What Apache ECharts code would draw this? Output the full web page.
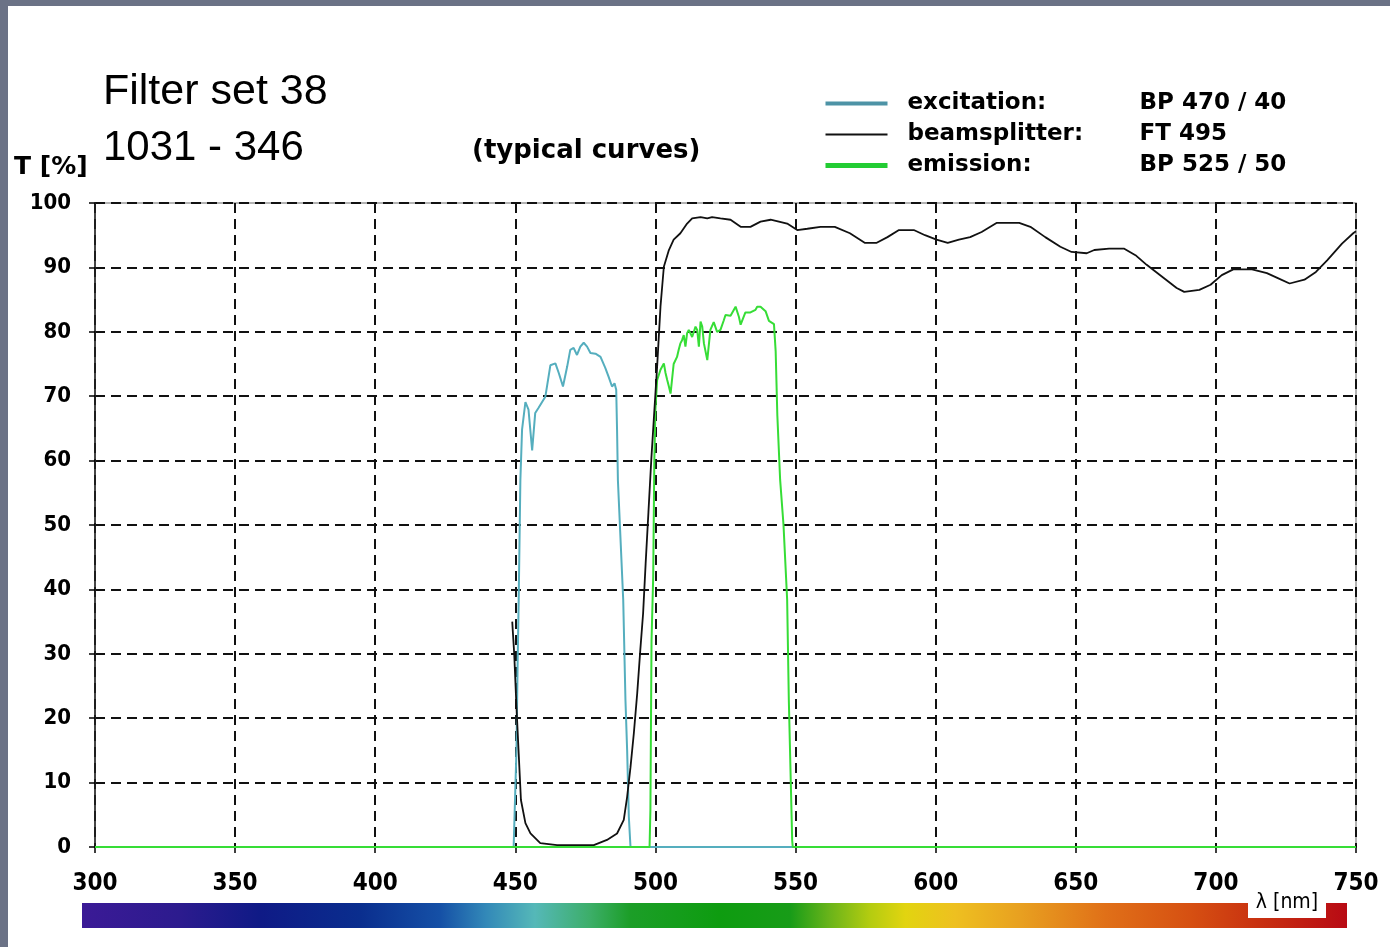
<!DOCTYPE html>
<html>
<head>
<meta charset="utf-8">
<script src="https://cdn.jsdelivr.net/npm/echarts@6.0.0/dist/echarts.min.js"></script>
<style>
  html, body { margin: 0; padding: 0; background: #ffffff; }
  #chart { width: 1390px; height: 947px; }
</style>
</head>
<body>
<div id="chart"></div>
<script>
// ---- data (wavelength nm, transmission %) ----
const excitationData = [
  [300, 0], [449.4, 0], [450.4, 15], [450.8, 28], [451.2, 38.4], [451.8, 57], [452.4, 64.8],
  [453.6, 69.1], [454.7, 67.9], [456, 61.6], [457.1, 67.4], [458.3, 68.2], [460.7, 69.9],
  [462.5, 74.8], [464.3, 75.1], [465.5, 73.6], [467, 71.5], [468.5, 74.6], [469.6, 77.2],
  [470.8, 77.5], [472, 76.4], [473.2, 77.7], [474.4, 78.3], [475.6, 77.7], [476.8, 76.7],
  [478.6, 76.6], [480.4, 76.1], [482.1, 74.4], [483.3, 73], [484.5, 71.5], [485.4, 72],
  [486, 71], [486.3, 64.8], [486.6, 57], [488.5, 38.4], [489.3, 22.8], [489.9, 15],
  [490.5, 4.7], [491.1, 0], [750, 0]
];

const beamsplitterData = [
  [448.9, 35], [449.1, 33.5], [449.6, 30], [450.4, 21.8], [451.2, 14.5], [452, 7.3],
  [453.6, 3.7], [455.4, 2.1], [458.9, 0.6], [464.9, 0.3], [478, 0.3], [482.7, 1.1],
  [486.3, 2.1], [488.7, 4.2], [489.9, 7.8], [491.1, 12.4], [492.3, 17.7], [493.5, 23.9],
  [494.6, 30.6], [495.6, 36.3], [496.5, 44], [497.5, 52], [498.5, 60], [499.4, 66.3],
  [500.6, 74.6], [501.8, 83.9], [503, 90.1], [504.8, 92.7], [506.5, 94.3], [508.9, 95.3],
  [511.3, 96.8], [513.1, 97.6], [516.1, 97.8], [518.5, 97.6], [520.2, 97.8], [523.2, 97.6],
  [526.8, 97.4], [530.4, 96.3], [533.9, 96.3], [537.5, 97.1], [541.1, 97.4], [547, 96.8],
  [550.6, 95.8], [554.2, 96.0], [558.9, 96.3], [564, 96.3], [569.4, 95.3], [574.8, 93.8],
  [578.8, 93.8], [582.8, 94.7], [586.9, 95.8], [592.2, 95.8], [596.2, 95.0], [600.3, 94.3],
  [604.3, 93.8], [608.3, 94.3], [612.3, 94.7], [616.4, 95.5], [621.7, 96.9], [629.8, 96.9],
  [633.8, 96.3], [639.1, 94.7], [644.5, 93.2], [648.5, 92.4], [653.9, 92.2], [656.6, 92.7],
  [661.9, 92.9], [667.3, 92.9], [671.3, 91.9], [675.3, 90.4], [680.7, 88.6], [686, 86.8],
  [688.7, 86.2], [694.1, 86.5], [698.1, 87.3], [702.1, 88.8], [706.2, 89.7], [712.9, 89.7],
  [718.2, 89.1], [722.3, 88.3], [726.3, 87.5], [731.6, 88.1], [735.7, 89.3], [739.7, 91.1],
  [745, 93.7], [749, 95.3], [750, 95.6]
];

const emissionData = [
  [300, 0], [497.9, 0], [498.2, 5.7], [498.6, 32], [499.2, 42], [499.6, 60], [500, 68],
  [500.6, 72.5], [501.8, 74.1], [503, 75.1], [503.6, 73.6], [504.2, 72.5], [504.8, 71.5],
  [505.4, 70.4], [506.5, 75], [507.7, 76.1], [508.3, 77.2], [508.9, 78.2], [509.5, 78.7],
  [510.1, 79.5], [510.7, 77.7], [511.3, 79.8], [511.9, 80.3], [512.5, 80.5], [513.1, 79.2],
  [514.3, 80.8], [514.9, 80.3], [515.5, 77.7], [516.1, 81.6], [516.7, 80.8], [517.3, 78.2],
  [518.5, 75.6], [519.6, 80.3], [520.8, 81.5], [522, 80], [523.2, 80.3], [524.4, 81.8],
  [525, 82.6], [526.8, 82.5], [528.6, 83.9], [529.8, 82.3], [530.4, 81.1], [531, 80.8],
  [532.1, 83], [533.9, 83], [535.7, 83.4], [536.3, 83.9], [537.5, 83.9], [538.1, 83.9],
  [539.3, 83.2], [540.5, 81.7], [542.3, 81.2], [542.9, 77], [543.5, 67], [544.5, 57],
  [545.7, 50], [547, 38.4], [547.6, 22.8], [548.3, 10], [548.8, 1], [549, 0], [750, 0]
];

const seriesNames = ['excitation', 'beamsplitter', 'emission'];
const filterNames = ['BP 470 / 40', 'FT 495', 'BP 525 / 50'];
const titleLines = ['Filter set 38', '1031 - 346'];
const subtitleText = '(typical curves)';
const yAxisName = 'T [%]';
const xAxisName = 'λ [nm]';

// spectrum colour stops (fraction along bar, colour)
const spectrumStops = [
  [0, '#3b1a96'], [0.077, '#2c1b8e'], [0.141, '#0f1a86'], [0.22, '#0a2e8e'],
  [0.283, '#1550a6'], [0.319, '#3288b8'], [0.358, '#55b8b8'], [0.402, '#3cae68'],
  [0.433, '#1c9e28'], [0.504, '#0e9c10'], [0.56, '#189c18'], [0.591, '#6ab41a'],
  [0.623, '#b4cc10'], [0.651, '#e2d410'], [0.69, '#eec020'], [0.742, '#e8a020'],
  [0.809, '#e07018'], [0.876, '#d65012'], [0.931, '#c83010'], [1, '#b80a14']
];

const colors = { excitation: '#55aebe', beamsplitter: '#111111', emission: '#36dd36' };

const chart = echarts.init(document.getElementById('chart'), null, { renderer: 'canvas' });

const boldFont = 'DejaVu Sans';
const condFont = "'DejaVu Sans Condensed', 'DejaVu Sans', sans-serif";
const hiddenSymbol = { opacity: 0, color: 'transparent', borderWidth: 0 };

const option = {
  backgroundColor: '#ffffff',
  animation: false,
  grid: {
    left: 95, right: 34, top: 203, bottom: 100,
    show: true, borderColor: '#9a9a9a', borderWidth: 1.5, backgroundColor: '#ffffff'
  },
  legend: {
    orient: 'vertical',
    left: 823, top: 92, padding: 0,
    itemWidth: 62, itemHeight: 14, itemGap: 8,
    selectedMode: false,
    data: [
      { name: 'excitation', lineStyle: { width: 4, color: '#4d93a6' }, itemStyle: hiddenSymbol },
      { name: 'beamsplitter', lineStyle: { width: 2, color: '#111' }, itemStyle: hiddenSymbol },
      { name: 'emission', lineStyle: { width: 5, color: '#22cc33' }, itemStyle: hiddenSymbol }
    ],
    formatter: function (name) {
      const i = seriesNames.indexOf(name);
      return '{g| }{a|' + name + ':}{b|' + filterNames[i] + '}';
    },
    textStyle: {
      rich: {
        g: { width: 15, fontSize: 23, lineHeight: 27 },
        a: { width: 232, fontFamily: boldFont, fontWeight: 'bold', fontSize: 23, color: '#000', lineHeight: 27 },
        b: { fontFamily: boldFont, fontWeight: 'bold', fontSize: 23, color: '#000', lineHeight: 27 }
      }
    }
  },
  xAxis: {
    type: 'value', min: 300, max: 750, interval: 50,
    axisLine: { show: true, lineStyle: { color: '#000', width: 1.5 } },
    axisTick: { show: true, length: 6, lineStyle: { color: '#000', width: 1.5 } },
    axisLabel: { margin: 25, fontFamily: condFont, fontWeight: 'bold', fontSize: 24, color: '#000' },
    splitLine: { show: true, lineStyle: { type: [10, 6], color: '#111', width: 2 } }
  },
  yAxis: {
    type: 'value', min: 0, max: 100, interval: 10,
    axisLine: { show: true, lineStyle: { color: '#222', width: 1.5 } },
    axisTick: { show: true, length: 6, lineStyle: { color: '#000', width: 1.5 } },
    axisLabel: { margin: 24, fontFamily: condFont, fontWeight: 'bold', fontSize: 22, color: '#000' },
    splitLine: { show: true, lineStyle: { type: [10, 6], color: '#111', width: 2 } }
  },
  series: [
    {
      name: 'excitation', type: 'line', data: excitationData, symbol: 'none', z: 2,
      lineStyle: { color: colors.excitation, width: 2 }, itemStyle: { color: colors.excitation }
    },
    {
      name: 'emission', type: 'line', data: emissionData, symbol: 'none', z: 3,
      lineStyle: { color: colors.emission, width: 2 }, itemStyle: { color: colors.emission }
    },
    {
      name: 'beamsplitter', type: 'line', data: beamsplitterData, symbol: 'none', z: 4,
      lineStyle: { color: colors.beamsplitter, width: 1.8 }, itemStyle: { color: colors.beamsplitter }
    }
  ],
  graphic: [
    // page frame strips
    { type: 'rect', left: 0, top: 0, shape: { width: 1390, height: 6 }, style: { fill: '#6b7286' }, z: 100 },
    { type: 'rect', left: 0, top: 0, shape: { width: 8, height: 947 }, style: { fill: '#6b7286' }, z: 100 },
    // titles
    { type: 'text', x: 103, y: 92, style: { text: titleLines[0], fontFamily: "'Liberation Sans', Arial, sans-serif", fontSize: 43, fill: '#000', textVerticalAlign: 'middle' } },
    { type: 'text', x: 103, y: 148, style: { text: titleLines[1], fontFamily: "'Liberation Sans', Arial, sans-serif", fontSize: 42, fill: '#000', textVerticalAlign: 'middle' } },
    { type: 'text', x: 472, y: 151, style: { text: subtitleText, fontFamily: boldFont, fontWeight: 'bold', fontSize: 26, fill: '#000', textVerticalAlign: 'middle' } },
    { type: 'text', x: 14, y: 167, style: { text: yAxisName, fontFamily: boldFont, fontWeight: 'bold', fontSize: 25, fill: '#000', textVerticalAlign: 'middle' } },
    // spectrum bar
    {
      type: 'rect', left: 82, top: 903, shape: { width: 1265, height: 25 },
      style: {
        fill: new echarts.graphic.LinearGradient(0, 0, 1, 0,
          spectrumStops.map(function (s) { return { offset: s[0], color: s[1] }; }))
      }, z: 5
    },
    { type: 'rect', left: 1248, top: 889, shape: { width: 78, height: 29 }, style: { fill: '#ffffff' }, z: 6 },
    { type: 'text', x: 1287, y: 903, style: { text: xAxisName, fontFamily: condFont, fontSize: 21, fill: '#000', textAlign: 'center', textVerticalAlign: 'middle' }, z: 7 }
  ]
};

chart.setOption(option);
</script>
</body>
</html>
